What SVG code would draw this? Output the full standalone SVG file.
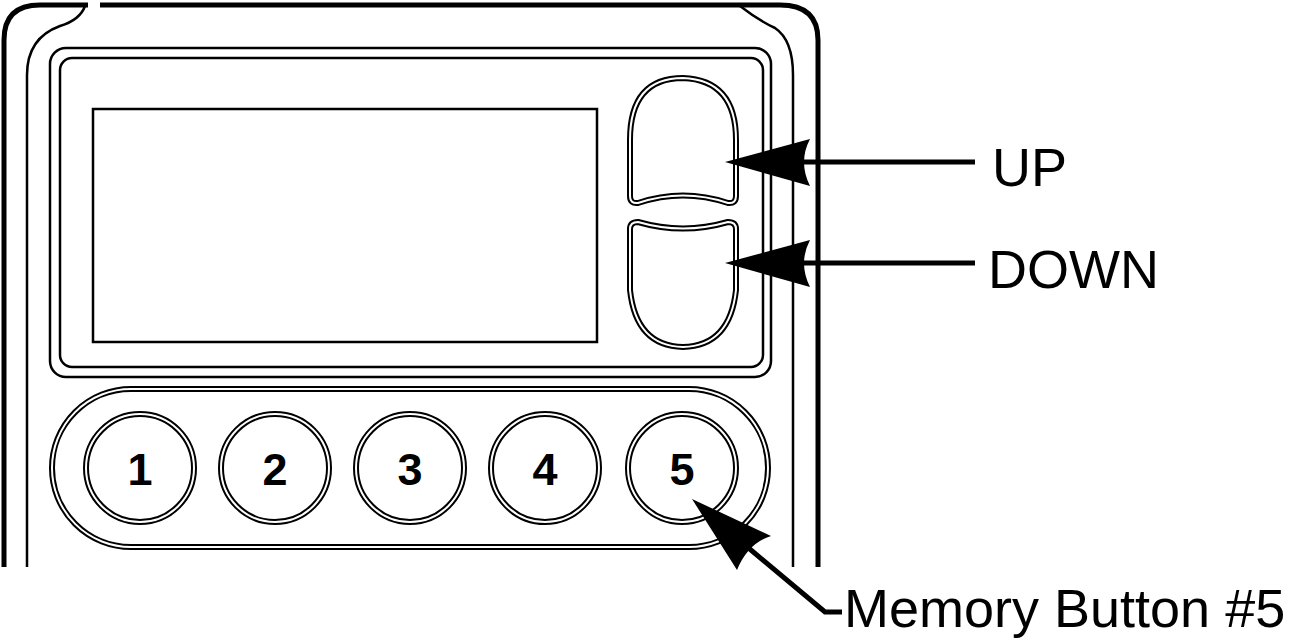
<svg xmlns="http://www.w3.org/2000/svg" width="1293" height="643" viewBox="0 0 1293 643">
<style>
.d{fill:none;stroke:#000;stroke-width:6}
.w{fill:none;stroke:#fff;stroke-width:2}
.l{fill:none;stroke:#000;stroke-width:2.5}
.t{font-family:"Liberation Sans",Arial,sans-serif;fill:#000;font-size:54px}
.n{font-family:"Liberation Sans",Arial,sans-serif;font-weight:bold;font-size:45px;text-anchor:middle}
.a{fill:none;stroke:#000;stroke-width:5}
</style>
<rect width="1293" height="643" fill="#fff"/>
<g id="housing">
<path d="M4,567 V40 Q4,5 40,5 H88 M100,5 H780 Q818,5 818,40 V567" fill="none" stroke="#000" stroke-width="5"/>
<path d="M85,6 Q80,20 60,26 Q27,38 27,75 V567 M740,6 Q758,20 775,28 Q793,40 793,75 V567" class="l"/>
</g>
<g id="panel">
<rect x="50" y="48" width="721" height="329" rx="16" class="l"/>
<rect x="60" y="58" width="703" height="309" rx="12" class="l"/>
<rect x="93" y="109" width="504" height="233" class="l" stroke-width="2"/>
</g>
<g id="up-button">
<path d="M630,140 Q630,78 683,78 Q736,80 736,140 V196 Q736,204 728,203 Q683,188 638,203 Q630,204 630,196 Z" class="d"/>
<path d="M630,140 Q630,78 683,78 Q736,80 736,140 V196 Q736,204 728,203 Q683,188 638,203 Q630,204 630,196 Z" class="w"/>
</g>
<g id="down-button">
<path d="M630,229 Q630,222 638,222 Q683,235 728,222 Q736,222 736,229 V290 Q730,346 683,347 Q636,346 630,290 Z" class="d"/>
<path d="M630,229 Q630,222 638,222 Q683,235 728,222 Q736,222 736,229 V290 Q730,346 683,347 Q636,346 630,290 Z" class="w"/>
</g>
<g id="memory-bar">
<rect x="52" y="389" width="716" height="158" rx="79" class="d"/>
<rect x="52" y="389" width="716" height="158" rx="79" class="w"/>
</g>
<g id="buttons">
<g id="b1"><circle cx="140" cy="468" r="54" class="d"/><circle cx="140" cy="468" r="54" class="w"/><text x="140" y="485" class="n">1</text></g>
<g id="b2"><circle cx="275" cy="468" r="54" class="d"/><circle cx="275" cy="468" r="54" class="w"/><text x="275" y="485" class="n">2</text></g>
<g id="b3"><circle cx="410" cy="468" r="54" class="d"/><circle cx="410" cy="468" r="54" class="w"/><text x="410" y="485" class="n">3</text></g>
<g id="b4"><circle cx="545" cy="468" r="54" class="d"/><circle cx="545" cy="468" r="54" class="w"/><text x="545" y="485" class="n">4</text></g>
<g id="b5"><circle cx="682" cy="468" r="54" class="d"/><circle cx="682" cy="468" r="54" class="w"/><text x="682" y="485" class="n">5</text></g>
</g>
<g id="connectors">
<line x1="800" y1="162" x2="975" y2="162" class="a"/>
<path d="M725,162 L810,139 Q798,162 810,186 Z"/>
<line x1="800" y1="263" x2="975" y2="263" class="a"/>
<path d="M725,263 L810,240 Q798,263 810,287 Z"/>
<path d="M745,545 L825,612 H842" class="a" stroke-width="6"/>
<path d="M692,499 L771,536 Q748,543 737,570 Z"/>
</g>
<g id="labels">
<text x="992" y="186" class="t">UP</text>
<text x="988" y="288" class="t">DOWN</text>
<text x="844" y="627" class="t">Memory Button #5</text>
</g>
</svg>
